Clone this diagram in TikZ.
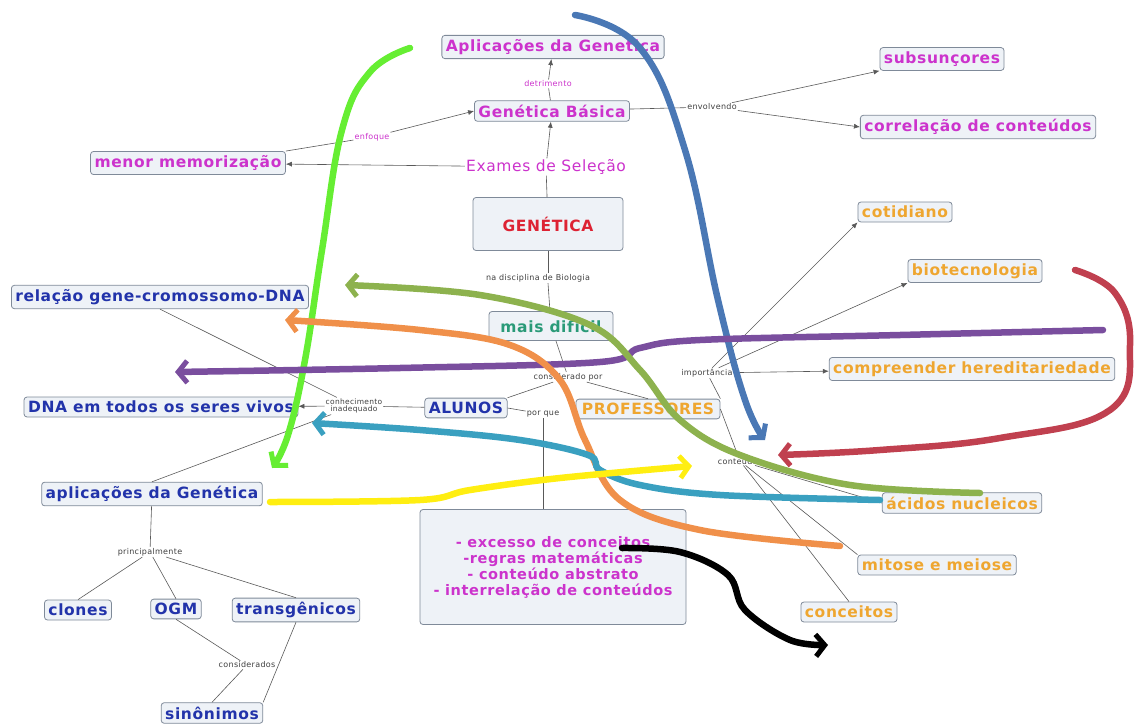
\documentclass[tikz,border=0pt]{standalone}
\usepackage{fontspec}
\setmainfont{DejaVu Sans}[LetterSpace=4]
\usetikzlibrary{arrows.meta}
\definecolor{boxfill}{HTML}{EEF2F7}
\definecolor{boxline}{HTML}{7F8A99}
\definecolor{mag}{HTML}{CC33CC}
\definecolor{navy}{HTML}{2233AA}
\definecolor{gold}{HTML}{EEA630}
\definecolor{teal2}{HTML}{2A9A78}
\definecolor{red2}{HTML}{DD2233}
\definecolor{hgreen}{HTML}{66EE33}
\definecolor{hblue}{HTML}{4A78B5}
\definecolor{hpurple}{HTML}{7A4E9E}
\definecolor{holive}{HTML}{8DB24E}
\definecolor{horange}{HTML}{F0904A}
\definecolor{hteal}{HTML}{3AA0C0}
\definecolor{hyellow}{HTML}{FFEE11}
\definecolor{hred}{HTML}{C0404F}
\tikzset{
  concept/.style={draw=boxline, fill=boxfill, rounded corners=3pt, line width=0.8pt,
    font=\bfseries\fontsize{15.5}{18}\selectfont, inner sep=4pt},
  lbl/.style={font=\fontsize{8}{9}\selectfont, text=black!75, inner sep=1pt, fill=white},
  mlbl/.style={lbl, text=mag},
  link/.style={draw=black!65, line width=0.6pt},
  arr/.style={link, -{Latex[length=6pt,width=5pt]}},
  hand/.style={line width=6.5pt, line cap=round,
    -{Straight Barb[length=9pt,width=22pt,line width=5pt]}},
}
\begin{document}
\begin{tikzpicture}[x=1pt,y=-1pt]
\useasboundingbox (0,0) rectangle (1141,726);

% ---- concepts ----
\node[concept, text=mag] (apl) at (553,47) {Aplicações da Genetica};
\node[concept, text=mag] (gb) at (552,111) {Genética Básica};
\node[text=mag, font=\fontsize{15.5}{18}\selectfont, inner sep=1pt, fill=white] (exa) at (546,167) {Exames de Seleção};
\node[concept, text=mag] (mem) at (188,163) {menor memorização};
\node[concept, text=mag] (sub) at (942,59) {subsunçores};
\node[concept, text=mag] (cor) at (978,127) {correlação de conteúdos};
\node[concept, text=red2, minimum width=150pt, minimum height=53pt] (gen) at (548,224) {GENÉTICA};
\node[concept, text=teal2, minimum width=124pt, minimum height=29pt] (dif) at (551,326) {mais difícil};
\node[concept, text=navy] (alu) at (466,408) {ALUNOS};
\node[concept, text=gold, minimum width=144pt] (pro) at (648,409) {PROFESSORES};
\node[concept, text=navy] (rel) at (160,297) {relação gene-cromossomo-DNA};
\node[concept, text=navy] (dna) at (161,407) {DNA em todos os seres vivos};
\node[concept, text=navy] (apg) at (152,494) {aplicações da Genética};
\node[concept, text=navy] (clo) at (78,610) {clones};
\node[concept, text=navy] (ogm) at (176,609) {OGM};
\node[concept, text=navy] (tra) at (296,610) {transgênicos};
\node[concept, text=navy] (sin) at (212,713) {sinônimos};
\node[concept, text=gold] (cot) at (905,212) {cotidiano};
\node[concept, text=gold] (bio) at (975,271) {biotecnologia};
\node[concept, text=gold] (her) at (972,369) {compreender hereditariedade};
\node[concept, text=gold] (aci) at (962,503) {ácidos nucleicos};
\node[concept, text=gold] (mit) at (937,565) {mitose e meiose};
\node[concept, text=gold] (con) at (849,612) {conceitos};
\node[concept, text=mag, minimum width=266pt, minimum height=115pt, align=center,
  font=\bfseries\fontsize{14.5}{16}\selectfont] (exc) at (553,567)
  {- excesso de conceitos\\-regras matemáticas\\- conteúdo abstrato\\- interrelação de conteúdos};

% ---- linking phrases ----
\node[mlbl] (det) at (548,84) {detrimento};
\node[mlbl] (enf) at (372,137) {enfoque};
\node[lbl] (env) at (712,107) {envolvendo};
\node[lbl] (dis) at (538,278) {na disciplina de Biologia};
\node[lbl] (cpor) at (568,377) {considerado por};
\node[lbl, align=center, font=\fontsize{7.5}{7.5}\selectfont] (inad) at (354,406) {conhecimento\\inadequado};
\node[lbl] (pq) at (543,414) {por que};
\node[lbl] (imp) at (707,373) {importância};
\node[lbl] (ctd) at (740,461) {conteúdos};
\node[lbl] (pri) at (150,552) {principalmente};
\node[lbl] (csd) at (247,665) {considerados};

% ---- connectors ----
\draw[arr] (gb) -- (det) -- (apl);
\draw[arr] (exa) -- (gb);
\draw[arr] (exa) -- (mem);
\draw[arr] (mem.north east) -- (enf) -- (gb.west);
\draw[link] (gb) -- (env);
\draw[arr] (env) -- (sub.south west);
\draw[arr] (env) -- (cor.west);
\draw[link] (gen) -- (exa);
\draw[link] (gen.south) -- (gen.south |- dis.north);
\draw[link] (gen.south |- dis.south) -- (dif);
\draw[link] (dif) -- (cpor);
\draw[link] (cpor) -- (alu.north east);
\draw[link] (cpor) -- (pro.north);
\draw[link] (alu) -- (inad);
\draw[arr] (inad) -- (dna);
\draw[link] (inad) -- (rel.south);
\draw[link] (inad) -- (apg.north);
\draw[link] (alu.east) -- (pq);
\draw[link] (pq) -- (pq |- exc.north);
\draw[link] (pro.north east) -- (imp);
\draw[arr] (imp) -- (cot.south west);
\draw[arr] (imp) -- (bio.south west);
\draw[arr] (imp) -- (her);
\draw[link] (pro.east) -- (ctd);
\draw[link] (ctd) -- (aci.west);
\draw[link] (ctd) -- (mit.north west);
\draw[link] (ctd) -- (con.north);
\draw[link] (apg) -- (pri);
\draw[link] (pri) -- (clo.north);
\draw[link] (pri) -- (ogm.north);
\draw[link] (pri) -- (tra.north);
\draw[link] (ogm.south) -- (csd);
\draw[link] (csd) -- (sin.north);
\draw[link] (tra.south) -- (sin.north east);

% ---- hand-drawn coloured arrows ----
\draw[hand, hgreen] plot[smooth, tension=0.7] coordinates
  {(410,48) (370,72) (342,130) (322,250) (305,360) (288,435) (272,468)};
\draw[hand, hblue] plot[smooth, tension=0.7] coordinates
  {(575,15) (640,48) (685,150) (718,300) (745,400) (765,440)};
\draw[hand, hpurple] plot[smooth, tension=0.6] coordinates
  {(1103,330) (900,335) (700,340) (640,348) (600,362) (400,368) (175,372)};
\draw[hand, holive] plot[smooth, tension=0.6] coordinates
  {(980,493) (850,485) (740,455) (680,420) (640,370) (590,325) (480,295) (345,285)};
\draw[hand, horange] plot[smooth, tension=0.6] coordinates
  {(840,546) (700,530) (620,500) (585,440) (560,380) (510,345) (420,330) (285,320)};
\draw[hand, hteal] plot[smooth, tension=0.6] coordinates
  {(880,500) (720,495) (640,485) (600,470) (588,455) (520,440) (420,430) (312,423)};
\draw[hand, hyellow] plot[smooth, tension=0.6] coordinates
  {(270,502) (420,500) (470,490) (560,478) (692,466)};
\draw[hand, hred] plot[smooth, tension=0.7] coordinates
  {(1075,270) (1115,293) (1130,345) (1110,410) (1000,438) (880,450) (778,455)};
\draw[hand, black] plot[smooth, tension=0.6] coordinates
  {(622,548) (680,552) (728,575) (745,610) (790,640) (828,645)};
\end{tikzpicture}
\end{document}
